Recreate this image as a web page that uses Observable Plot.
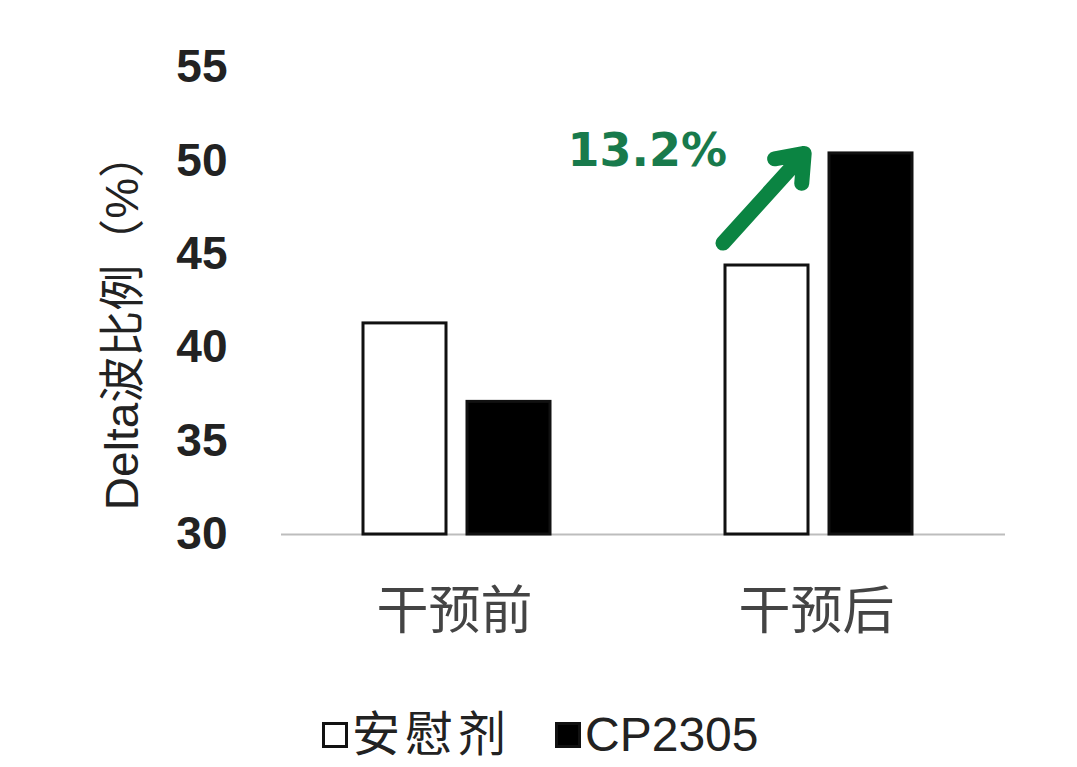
<!DOCTYPE html>
<html><head><meta charset="utf-8">
<script src="https://cdn.jsdelivr.net/npm/d3@7"></script>
<script src="https://cdn.jsdelivr.net/npm/@observablehq/plot@0.6"></script>
<style>
body{margin:0;background:#fff;font-family:"Liberation Sans","Noto Sans CJK SC",sans-serif;}
#chart svg{display:block;}
#legend{display:flex;align-items:center;padding-left:322px;height:66px;margin-top:12px;font-size:48px;line-height:66px;color:#222;font-family:"Liberation Sans","Noto Sans CJK SC",sans-serif;}
#legend .sw{display:inline-block;width:20px;height:20px;border:3px solid #111;margin-right:4px;}
#legend .item{display:flex;align-items:center;margin-right:44px;}
#legend .cjk{letter-spacing:5px;}
</style></head>
<body><div id="chart"></div><div id="legend"></div>
<script>
const groups = ["干预前", "干预后"];
const series = ["安慰剂", "CP2305"];
const placeboValues = [41.3, 44.4];
const cpValues = [37.1, 50.4];
const seriesColors = ["#ffffff", "#000000"];
const yTicks = [30, 35, 40, 45, 50, 55];
const yLabel = "Delta波比例（%）";
const changeLabel = "13.2%";
const changeGroup = "干预后";
const arrowFromValue = 45.6;
const arrowToValue = 51.75;
const changeLabelValue = 50.5;

const table = [];
groups.forEach((g, i) => {
  table.push({group: g, series: series[0], value: placeboValues[i]});
  table.push({group: g, series: series[1], value: cpValues[i]});
});

const green = "#0b8442";
const chart = Plot.plot({
  width: 1077,
  height: 690,
  marginLeft: 280,
  marginRight: 72,
  marginTop: 67,
  marginBottom: 156,
  style: {background: "#fff", fontFamily: "Liberation Sans, Noto Sans CJK SC, sans-serif"},
  fx: {domain: groups, padding: 0, label: null},
  x: {domain: series, paddingInner: 0.2, paddingOuter: 0.83, align: 0.47, axis: null},
  y: {domain: [30, 55], axis: null},
  color: {domain: series, range: seriesColors},
  marks: [
    Plot.ruleY([30], {stroke: "#bdbdbd", strokeWidth: 2}),
    Plot.barY(table, {fx: "group", x: "series", y1: 30, y2: "value", fill: "series", stroke: "#111", strokeWidth: 3}),
    Plot.axisY({ticks: yTicks, tickSize: 0, tickPadding: 54, fontSize: 46, fontWeight: "bold", fill: "#222", label: null}),
    Plot.axisFx({anchor: "bottom", tickSize: 0, tickPadding: 58, fontSize: 52, fill: "#444", dx: -8, label: null}),
    Plot.text([yLabel], {fx: () => groups[0], frameAnchor: "left", textAnchor: "middle", rotate: -90, dx: -158, dy: 20, fontSize: 46, fill: "#222"}),
    Plot.arrow([changeLabel], {fx: () => changeGroup, x1: () => series[0], x2: () => series[1], y1: () => arrowFromValue, y2: () => arrowToValue, dx: -44, insetEnd: 34, stroke: green, strokeWidth: 15, headLength: 3, headAngle: 75, strokeLinejoin: "miter"}),
    Plot.text([changeLabel], {fx: () => changeGroup, x: () => series[0], y: () => changeLabelValue, textAnchor: "end", dx: -40, fontSize: 46, fontWeight: "bold", fill: "#187a4c", fontFamily: "DejaVu Sans"})
  ]
});
document.getElementById("chart").appendChild(chart);

const legend = document.getElementById("legend");
series.forEach((s, i) => {
  const item = document.createElement("div");
  item.className = "item";
  const sw = document.createElement("span");
  sw.className = "sw";
  sw.style.background = seriesColors[i];
  const t = document.createElement("span");
  t.textContent = s;
  if (/[\u4e00-\u9fff]/.test(s)) t.className = "cjk";
  item.appendChild(sw); item.appendChild(t);
  legend.appendChild(item);
});
</script></body></html>
